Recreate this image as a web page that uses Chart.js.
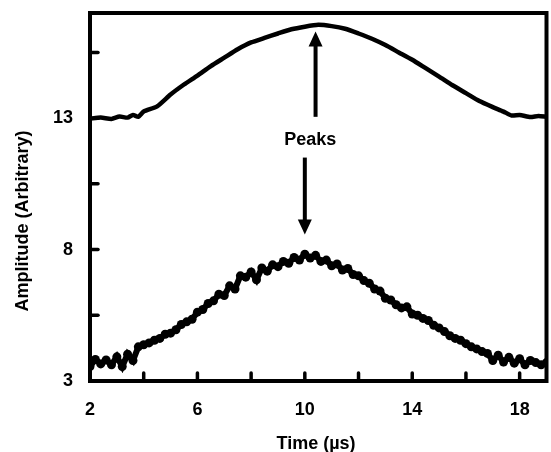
<!DOCTYPE html>
<html>
<head>
<meta charset="utf-8">
<script src="https://cdn.jsdelivr.net/npm/chart.js@4/dist/chart.umd.min.js"></script>
<style>
html,body{margin:0;padding:0;background:#fff;}
#wrap{width:551px;height:452px;position:relative;}
</style>
</head>
<body>
<div id="wrap"><canvas id="c" width="551" height="452"></canvas></div>
<script>
// Upper trace (smooth line)
const upperTime = [2, 2.4, 2.8, 3.1, 3.4, 3.6, 3.8, 4, 4.5, 5, 5.5, 6, 6.5, 7, 7.5, 8, 8.5, 9, 9.5, 10, 10.5, 11, 11.5, 12, 12.5, 13, 13.5, 14, 14.5, 15, 15.5, 16, 16.5, 17, 17.4, 17.7, 18, 18.4, 18.7, 19];
const upperAmp  = [12.98, 13.02, 12.97, 13.06, 13.02, 13.12, 13.05, 13.25, 13.45, 13.9, 14.28, 14.62, 14.98, 15.3, 15.62, 15.88, 16.05, 16.22, 16.38, 16.48, 16.55, 16.5, 16.4, 16.22, 16.02, 15.78, 15.5, 15.22, 14.9, 14.58, 14.25, 13.95, 13.65, 13.42, 13.25, 13.1, 13.12, 13.04, 13.08, 13.05];

// Lower trace (noisy points)
const lowerTime = [2.0,2.2,2.4,2.6,2.8,3.0,3.2,3.4,3.6,3.8,
  4.0,4.2,4.4,4.6,4.8,5.0,5.2,5.4,5.6,5.8,
  6.0,6.2,6.4,6.6,6.8,7.0,7.2,7.4,7.6,7.8,
  8.0,8.2,8.4,8.6,8.8,9.0,9.2,9.4,9.6,9.8,
  10.0,10.2,10.4,10.6,10.8,11.0,11.2,11.4,11.6,11.8,
  12.0,12.2,12.4,12.6,12.8,13.0,13.2,13.4,13.6,13.8,
  14.0,14.2,14.4,14.6,14.8,15.0,15.2,15.4,15.6,15.8,
  16.0,16.2,16.4,16.6,16.8,17.0,17.2,17.4,17.6,17.8,
  18.0,18.2,18.4,18.6,18.8,19.0];
const lowerAmp = [3.55,3.82,3.65,3.8,3.62,3.92,3.55,4.02,3.78,4.3,
  4.38,4.45,4.55,4.62,4.78,4.82,4.95,5.15,5.25,5.35,
  5.62,5.72,5.95,6.05,6.3,6.25,6.62,6.5,7.0,6.95,
  7.15,6.85,7.3,7.18,7.42,7.35,7.55,7.48,7.7,7.6,
  7.82,7.68,7.78,7.55,7.6,7.38,7.45,7.22,7.28,7.05,
  7.0,6.82,6.72,6.5,6.42,6.15,6.08,5.9,5.78,5.82,
  5.55,5.5,5.38,5.3,5.12,5.02,4.88,4.72,4.62,4.55,
  4.42,4.3,4.22,4.12,4.05,3.78,3.98,3.72,3.9,3.68,
  3.85,3.62,3.78,3.7,3.62,3.7];

const xLabels = [2, 6, 10, 14, 18];
const yLabels = [3, 8, 13];

// Annotation: arrows [x, yTail, yTip]
const arrowUp = [10.4, 13.05, 16.3];
const arrowDown = [10.0, 11.5, 8.57];
const peaksLabel = {text: 'Peaks', x: 10.2, y: 12.15};

const FONT = '"Liberation Sans", Arial, sans-serif';

const decor = {
  id: 'decor',
  afterDraw(chart) {
    const ctx = chart.ctx, a = chart.chartArea;
    const xs = chart.scales.x, ys = chart.scales.y;
    ctx.save();
    ctx.strokeStyle = '#000';
    ctx.fillStyle = '#000';
    ctx.lineCap = 'round';
    // inward ticks
    ctx.lineWidth = 3.5;
    for (let v = 4; v <= 18; v += 2) {
      const px = xs.getPixelForValue(v);
      ctx.beginPath(); ctx.moveTo(px, a.bottom); ctx.lineTo(px, a.bottom - 8); ctx.stroke();
    }
    for (let v = 5.5; v <= 16; v += 2.5) {
      const py = ys.getPixelForValue(v);
      ctx.beginPath(); ctx.moveTo(a.left, py); ctx.lineTo(a.left + 8, py); ctx.stroke();
    }
    // frame
    ctx.lineCap = 'butt';
    ctx.lineWidth = 4;
    ctx.strokeRect(a.left, a.top, a.right - a.left, a.bottom - a.top);
    // arrows
    function arrow(x, y0, y1) {
      const px = xs.getPixelForValue(x);
      const p0 = ys.getPixelForValue(y0), p1 = ys.getPixelForValue(y1);
      const dir = p1 < p0 ? -1 : 1;
      ctx.lineWidth = 4;
      ctx.beginPath(); ctx.moveTo(px, p0); ctx.lineTo(px, p1 - dir * 12); ctx.stroke();
      ctx.beginPath();
      ctx.moveTo(px, p1);
      ctx.lineTo(px - 7, p1 - dir * 15);
      ctx.lineTo(px + 7, p1 - dir * 15);
      ctx.closePath(); ctx.fill();
    }
    arrow(arrowUp[0], arrowUp[1], arrowUp[2]);
    arrow(arrowDown[0], arrowDown[1], arrowDown[2]);
    ctx.font = 'bold 18px ' + FONT;
    ctx.textAlign = 'center';
    ctx.textBaseline = 'middle';
    ctx.fillText(peaksLabel.text, xs.getPixelForValue(peaksLabel.x), ys.getPixelForValue(peaksLabel.y));
    // axis titles
    ctx.fillText('Time (\u00b5s)', 316, 444);
    ctx.translate(23, 221);
    ctx.rotate(-Math.PI / 2);
    ctx.fillText('Amplitude (Arbitrary)', 0, 0);
    ctx.restore();
  }
};

new Chart(document.getElementById('c'), {
  type: 'scatter',
  data: {
    datasets: [
      {
        label: 'Upper',
        data: upperTime.map((t, i) => ({x: t, y: upperAmp[i]})),
        showLine: true,
        borderColor: '#000',
        borderWidth: 4.5,
        pointRadius: 0,
        tension: 0.2
      },
      {
        label: 'Lower',
        data: lowerTime.map((t, i) => ({x: t, y: lowerAmp[i]})),
        showLine: true,
        borderColor: '#000',
        borderWidth: 6,
        backgroundColor: '#000',
        pointRadius: 4.5,
        pointBorderWidth: 0,
        tension: 0
      }
    ]
  },
  options: {
    responsive: false,
    animation: false,
    layout: {padding: {top: 13, right: 2, left: 0, bottom: 0}},
    plugins: {legend: {display: false}, tooltip: {enabled: false}},
    scales: {
      x: {
        type: 'linear', min: 2, max: 19,
        grid: {display: false, drawTicks: false},
        border: {display: false},
        afterFit(s) { s.height = 71; s.paddingLeft = 0; s.paddingRight = 0; },
        afterBuildTicks(s) { s.ticks = xLabels.map(v => ({value: v})); },
        ticks: {
          padding: 18, color: '#000',
          font: {family: FONT, size: 18, weight: 'bold'},
          maxRotation: 0, autoSkip: false
        }
      },
      y: {
        type: 'linear', min: 3, max: 17,
        grid: {display: false, drawTicks: false},
        border: {display: false},
        afterFit(s) { s.width = 90; s.paddingTop = 0; s.paddingBottom = 0; },
        afterBuildTicks(s) { s.ticks = yLabels.map(v => ({value: v})); },
        ticks: {
          padding: 17, color: '#000',
          font: {family: FONT, size: 18, weight: 'bold'},
          autoSkip: false
        }
      }
    }
  },
  plugins: [decor]
});
</script>
</body>
</html>
